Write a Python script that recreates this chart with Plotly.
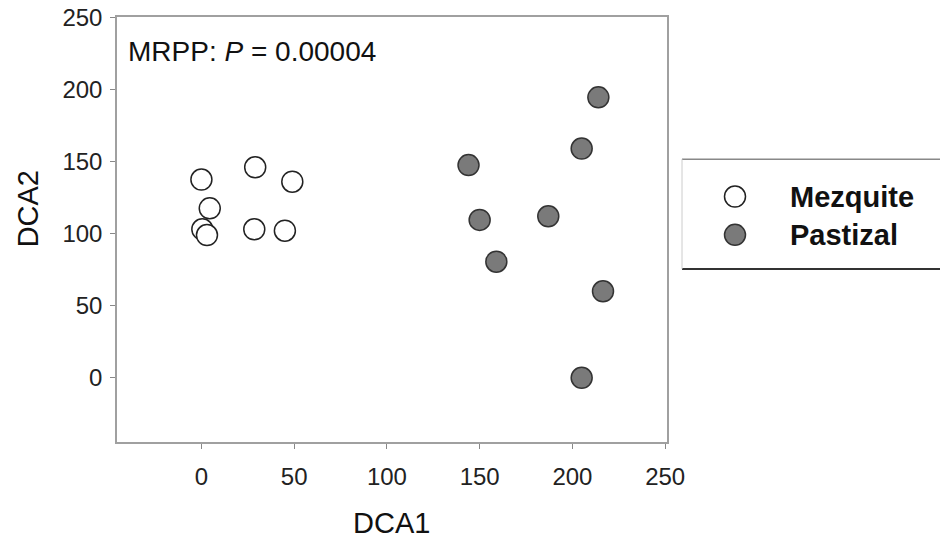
import plotly.graph_objects as go

# ---- data ----
mezquite_x = [0, 29, 49, 4.5, 0.5, 3, 28.5, 45]
mezquite_y = [137.5, 146, 136, 117.5, 103, 99, 103, 102]
pastizal_x = [214, 205, 144, 150, 187, 159, 216.5, 205]
pastizal_y = [194.5, 159, 147.5, 109.5, 112, 80.5, 60, 0]
series_names = ["Mezquite", "Pastizal"]
x_ticks = [0, 50, 100, 150, 200, 250]
y_ticks = [0, 50, 100, 150, 200, 250]

# body margin removed via post_script, so figure coords == screen coords
W, H = 940, 548
ML = 117
MT = 17
plot_bottom = 442.3
plot_right = 667
MB = H - plot_bottom
paper_w = W - ML
paper_h = plot_bottom - MT
main_frac = (plot_right - ML) / paper_w


def px(sx):
    return (sx - ML) / paper_w


def py(sy):
    return (plot_bottom - sy) / paper_h


font_fam = "Liberation Sans, Arial, sans-serif"
mez_marker = dict(size=21, color="white", line=dict(color="#222222", width=1.5))
pas_marker = dict(size=21, color="#7a7a7a", line=dict(color="#333333", width=1.5))

fig = go.Figure()
fig.add_trace(go.Scatter(x=mezquite_x, y=mezquite_y, mode="markers",
                         marker=mez_marker, name=series_names[0], showlegend=False))
fig.add_trace(go.Scatter(x=pastizal_x, y=pastizal_y, mode="markers",
                         marker=pas_marker, name=series_names[1], showlegend=False))

# manual legend on its own axes (box: x 682..edge, y 159.3..269.3)
box_l, box_t, box_b = 682, 159.3, 269.3
box_r = W
leg_mx = (735 - box_l) / (box_r - box_l)
leg_tx = (788 - box_l) / (box_r - box_l)
leg_my = [(box_b - 196.7) / (box_b - box_t), (box_b - 235) / (box_b - box_t)]
fig.add_trace(go.Scatter(x=[leg_mx], y=[leg_my[0]], mode="markers", marker=mez_marker,
                         xaxis="x2", yaxis="y2", showlegend=False, hoverinfo="skip"))
fig.add_trace(go.Scatter(x=[leg_mx], y=[leg_my[1]], mode="markers", marker=pas_marker,
                         xaxis="x2", yaxis="y2", showlegend=False, hoverinfo="skip"))
for name, yy in zip(series_names, leg_my):
    fig.add_annotation(x=leg_tx, y=yy, xref="x2", yref="y2", text="<b>" + name + "</b>",
                       showarrow=False, xanchor="left", yanchor="middle",
                       font=dict(family=font_fam, size=29, color="#111111"))

fig.add_shape(type="line", xref="x2 domain", yref="y2 domain", x0=0, x1=1, y0=1, y1=1,
              line=dict(color="#888888", width=1.5))
fig.add_shape(type="line", xref="x2 domain", yref="y2 domain", x0=0, x1=1, y0=0, y1=0,
              line=dict(color="#333333", width=2))
fig.add_shape(type="line", xref="x2 domain", yref="y2 domain", x0=0, x1=0, y0=0, y1=1,
              line=dict(color="#cccccc", width=1))

axis_common = dict(showgrid=False, zeroline=False, showline=True, linecolor="#a0a0a0",
                   linewidth=1.5, mirror=True, ticks="outside", ticklen=5, tickcolor="#888888",
                   automargin=False,
                   tickfont=dict(family=font_fam, size=24, color="#222222"))

fig.update_layout(
    template="none",
    width=W, height=H, autosize=False,
    margin=dict(l=ML, r=0, t=MT, b=MB, pad=0, autoexpand=False),
    paper_bgcolor="white", plot_bgcolor="white",
    xaxis=dict(range=[-45.5, 251], tickvals=x_ticks, domain=[0, main_frac],
               ticklabelstandoff=7, **axis_common),
    yaxis=dict(range=[-44.5, 250.2], tickvals=y_ticks, domain=[0, 1],
               ticklabelstandoff=3, **axis_common),
    xaxis2=dict(domain=[px(box_l), 1], range=[0, 1], visible=False, anchor="y2"),
    yaxis2=dict(domain=[py(box_b), py(box_t)], range=[0, 1], visible=False, anchor="x2"),
    showlegend=False,
)

fig.add_annotation(x=px(391.5), y=py(523), xref="paper", yref="paper",
                   text="DCA1", showarrow=False, xanchor="center", yanchor="middle",
                   font=dict(family=font_fam, size=29, color="#111111"))
fig.add_annotation(x=px(27.5), y=py(209), xref="paper", yref="paper",
                   text="DCA2", showarrow=False, textangle=-90, xanchor="center", yanchor="middle",
                   font=dict(family=font_fam, size=29, color="#111111"))
fig.add_annotation(x=px(126), y=py(51.7), xref="paper", yref="paper",
                   text="MRPP: <i>P</i> = 0.00004", showarrow=False, xanchor="left", yanchor="middle",
                   font=dict(family=font_fam, size=28, color="#111111"))

fig.write_html(
    "out.html",
    config={"displayModeBar": False},
    post_script="document.body.style.margin='0';"
                "document.body.style.overflow='hidden';"
                "document.documentElement.style.overflow='hidden';",
)
